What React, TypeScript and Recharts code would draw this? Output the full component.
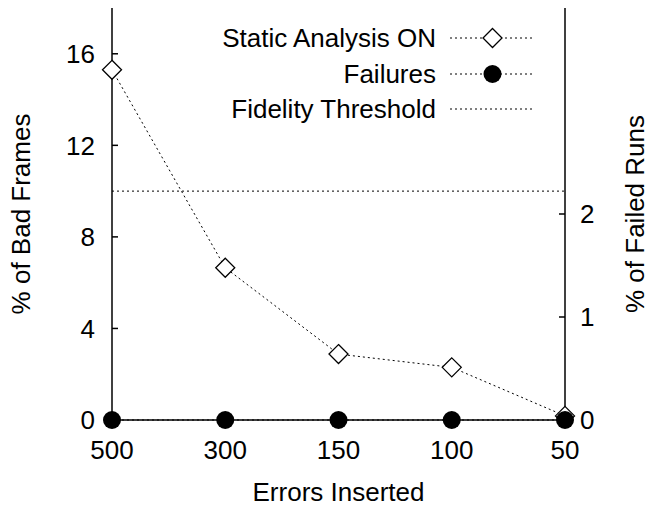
import {
  Legend,
  Line,
  LineChart,
  ReferenceLine,
  XAxis,
  YAxis,
} from "recharts";

const errorsInserted = ["500", "300", "150", "100", "50"];
const staticAnalysisOn = [15.3, 6.65, 2.88, 2.3, 0.18];
const failures = [0, 0, 0, 0, 0];
const fidelityThreshold = 10;
const leftTicks = [0, 4, 8, 12, 16];
const rightTicks = [0, 1, 2];
const seriesNames = ["Static Analysis ON", "Failures", "Fidelity Threshold"];

const rows = errorsInserted.map((errors, i) => ({
  errors,
  bad: staticAnalysisOn[i],
  failed: failures[i],
}));

const font = "'Liberation Sans', Arial, Helvetica, sans-serif";
const tickStyle = { fontSize: 26, fill: "#000", fontFamily: font };
const dotted = "2 3";

function Diamond({ cx, cy }: { cx?: number; cy?: number }) {
  if (cx == null || cy == null) return null;
  const s = 9.5;
  return (
    <polygon
      points={`${cx},${cy - s} ${cx + s},${cy} ${cx},${cy + s} ${cx - s},${cy}`}
      fill="#fff"
      stroke="#000"
      strokeWidth={1.3}
    />
  );
}

function axisTitle(text: string, shift: number) {
  return function Title(props: any) {
    const vb = props.viewBox || {};
    const x = vb.x + vb.width / 2 + shift;
    const y = vb.y + vb.height / 2;
    return (
      <text
        transform={`translate(${x},${y}) rotate(-90)`}
        textAnchor="middle"
        dominantBaseline="central"
        style={tickStyle}
      >
        {text}
      </text>
    );
  };
}

function LegendBox() {
  const textRight = 436;
  const lineFrom = 450;
  const lineTo = 535;
  const mid = (lineFrom + lineTo) / 2;
  const rowY = [38, 74, 109];
  return (
    <svg width={649} height={140}>
      {seriesNames.map((name, i) => (
        <g key={name}>
          <text
            x={textRight}
            y={rowY[i]}
            textAnchor="end"
            dominantBaseline="central"
            style={tickStyle}
          >
            {name}
          </text>
          <line
            x1={lineFrom}
            x2={lineTo}
            y1={rowY[i]}
            y2={rowY[i]}
            stroke="#000"
            strokeWidth={1}
            strokeDasharray={dotted}
          />
          {i === 0 && <Diamond cx={mid} cy={rowY[i]} />}
          {i === 1 && <circle cx={mid} cy={rowY[i]} r={9} fill="#000" />}
        </g>
      ))}
    </svg>
  );
}

export default function App() {
  return (
    <div style={{ position: "absolute", left: 0, top: 0, background: "#fff" }}>
      <LineChart
        width={649}
        height={510}
        data={rows}
        margin={{ top: 8, right: 0, bottom: 0, left: 0 }}
      >
        <XAxis
          dataKey="errors"
          xAxisId="bottom"
          height={90}
          stroke="#000"
          strokeWidth={1.5}
          tick={tickStyle}
          tickSize={-6}
          tickMargin={27}
          label={{
            value: "Errors Inserted",
            position: "insideBottom",
            offset: 9,
            style: tickStyle,
          }}
        />
        <XAxis
          dataKey="errors"
          xAxisId="top"
          orientation="top"
          height={0}
          stroke="#000"
          strokeWidth={1.5}
          tick={false}
          tickSize={-6}
        />
        <YAxis
          yAxisId="left"
          width={112}
          domain={[0, 18]}
          ticks={leftTicks}
          stroke="#000"
          strokeWidth={1.5}
          tick={tickStyle}
          tickSize={-6}
          tickMargin={23}
          label={{ content: axisTitle("% of Bad Frames", -35) }}
        />
        <YAxis
          yAxisId="right"
          orientation="right"
          width={84}
          domain={[0, 4]}
          ticks={rightTicks}
          stroke="#000"
          strokeWidth={1.5}
          tick={tickStyle}
          tickSize={-6}
          tickMargin={21}
          label={{ content: axisTitle("% of Failed Runs", 28) }}
        />
        <ReferenceLine
          y={fidelityThreshold}
          yAxisId="left"
          xAxisId="bottom"
          stroke="#000"
          strokeWidth={1}
          strokeDasharray={dotted}
        />
        <Line
          dataKey="bad"
          name={seriesNames[0]}
          yAxisId="left"
          xAxisId="bottom"
          type="linear"
          stroke="#000"
          strokeWidth={1}
          strokeDasharray={dotted}
          dot={<Diamond />}
          activeDot={false}
          isAnimationActive={false}
        />
        <Line
          dataKey="failed"
          name={seriesNames[1]}
          yAxisId="right"
          xAxisId="bottom"
          type="linear"
          stroke="#000"
          strokeWidth={1}
          strokeDasharray={dotted}
          dot={{ r: 9, fill: "#000", stroke: "#000", strokeWidth: 0 }}
          activeDot={false}
          isAnimationActive={false}
        />
        <Legend
          layout="vertical"
          align="center"
          verticalAlign="middle"
          wrapperStyle={{ left: 0, top: 0, width: 649, height: 140 }}
          content={() => <LegendBox />}
        />
      </LineChart>
    </div>
  );
}
